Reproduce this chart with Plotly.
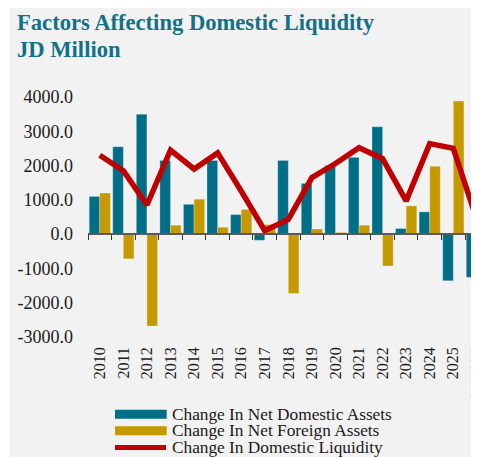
import plotly.graph_objects as go

categories = ["2010", "2011", "2012", "2013", "2014", "2015", "2016", "2017", "2018",
              "2019", "2020", "2021", "2022", "2023", "2024", "2025", "01/2026"]
net_domestic_assets = [1100, 2550, 3500, 2150, 870, 2150, 570, -180, 2150, 1480, 2000,
                       2240, 3130, 165, 650, -1360, -1260]
net_foreign_assets = [1200, -720, -2680, 260, 1020, 200, 720, 280, -1730, 150, 50,
                      260, -930, 825, 1980, 3880, 1690]
domestic_liquidity = [2300, 1850, 850, 2450, 1900, 2370, 1260, 100, 430, 1650, 2060,
                      2520, 2200, 970, 2640, 2500, 420]
y_tick_values = [-3000, -2000, -1000, 0, 1000, 2000, 3000, 4000]
y_tick_labels = ["-3000.0", "-2000.0", "-1000.0", "0.0", "1000.0", "2000.0", "3000.0", "4000.0"]
series_names = ["Change In Net Domestic Assets", "Change In Net Foreign Assets",
                "Change In Domestic Liquidity"]
title_lines = ["Factors Affecting Domestic Liquidity", "JD Million"]

TEAL = "#006E87"
GOLD = "#C49A00"
RED = "#C00000"
BG = "#F2F2F2"
SERIF = "Liberation Serif, Times New Roman, serif"

# the page body adds an 8px margin; the figure is placed at (8, 8)
OFF = 8
W, H = 479 - OFF, 457 - OFF
L, R, T = 88 - OFF, 0, 97 - OFF
B = H - (337 - OFF)
PW = W - L - R
PH = H - T - B


def px(x):
    return (x - 88) / PW


def py(y):
    return (337 - y) / PH


fig = go.Figure()
fig.add_trace(go.Bar(x=categories, y=net_domestic_assets, name=series_names[0],
                     marker=dict(color=TEAL, line=dict(color="rgba(255,255,255,0.35)", width=0.8)),
                     showlegend=False))
fig.add_trace(go.Bar(x=categories, y=net_foreign_assets, name=series_names[1],
                     marker=dict(color=GOLD, line=dict(color="rgba(255,255,255,0.35)", width=0.8)),
                     showlegend=False))
fig.add_trace(go.Scatter(x=categories, y=domestic_liquidity, name=series_names[2],
                         mode="lines", line=dict(color=RED, width=5.5),
                         xaxis="x2", showlegend=False))

xr = [-0.5, 16.09]
ymin, ymax = -3000, 4000
zero_pos = (0 - ymin) / (ymax - ymin)

legend_rows = [414.3, 430.7, 447.4]
shapes = [
    dict(type="rect", xref="paper", yref="paper", x0=px(10), x1=px(500), y0=py(470), y1=py(0),
         fillcolor=BG, line=dict(width=0), layer="below"),
    dict(type="rect", xref="paper", yref="paper", x0=px(115), x1=px(166.7),
         y0=py(legend_rows[0] + 4.5), y1=py(legend_rows[0] - 4.5),
         fillcolor=TEAL, line=dict(width=0)),
    dict(type="rect", xref="paper", yref="paper", x0=px(115), x1=px(166.7),
         y0=py(legend_rows[1] + 4.5), y1=py(legend_rows[1] - 4.5),
         fillcolor=GOLD, line=dict(width=0)),
    dict(type="line", xref="paper", yref="paper", x0=px(115), x1=px(166),
         y0=py(legend_rows[2]), y1=py(legend_rows[2]),
         line=dict(color=RED, width=5)),
]

annotations = [
    dict(text="<b>%s</b>" % title_lines[0], xref="paper", yref="paper", x=px(15), y=py(22.5),
         xanchor="left", yanchor="middle", showarrow=False,
         font=dict(family=SERIF, size=22.6, color="#13708A")),
    dict(text="<b>%s</b>" % title_lines[1], xref="paper", yref="paper", x=px(15), y=py(49.2),
         xanchor="left", yanchor="middle", showarrow=False,
         font=dict(family=SERIF, size=22.6, color="#13708A")),
]
for name, yc in zip(series_names, legend_rows):
    annotations.append(dict(text=name, xref="paper", yref="paper", x=px(170), y=py(yc),
                            xanchor="left", yanchor="middle", showarrow=False,
                            font=dict(family=SERIF, size=17.3, color="#1A1A1A")))

fig.update_layout(
    template="none",
    width=W, height=H, autosize=False,
    margin=dict(l=L, r=R, t=T, b=B, pad=0),
    paper_bgcolor="white",
    plot_bgcolor="rgba(0,0,0,0)",
    barmode="group", bargap=0.1, bargroupgap=0,
    showlegend=False,
    shapes=shapes,
    annotations=annotations,
    xaxis=dict(type="category", categoryorder="array", categoryarray=categories, range=xr,
               automargin=False,
               showgrid=False, zeroline=False, showline=False, ticks="",
               tickangle=-90, ticklabelstandoff=6,
               tickfont=dict(family=SERIF, size=16, color="#1A1A1A")),
    xaxis2=dict(type="category", categoryorder="array", categoryarray=categories, range=xr,
                automargin=False,
                overlaying="x", anchor="free", position=zero_pos, side="bottom",
                showgrid=False, zeroline=False, showline=True, linecolor="#5A5A5A", linewidth=2,
                ticks="outside", ticklen=5, tickwidth=1, tickcolor="#333333",
                tickson="boundaries", showticklabels=False),
    yaxis=dict(range=[ymin, ymax], tickmode="array", tickvals=y_tick_values, ticktext=y_tick_labels,
               automargin=False,
               showgrid=False, zeroline=False, showline=False, ticks="", ticklabelstandoff=14,
               tickfont=dict(family=SERIF, size=18, color="#1A1A1A")),
)

fig.write_html("out.html")
